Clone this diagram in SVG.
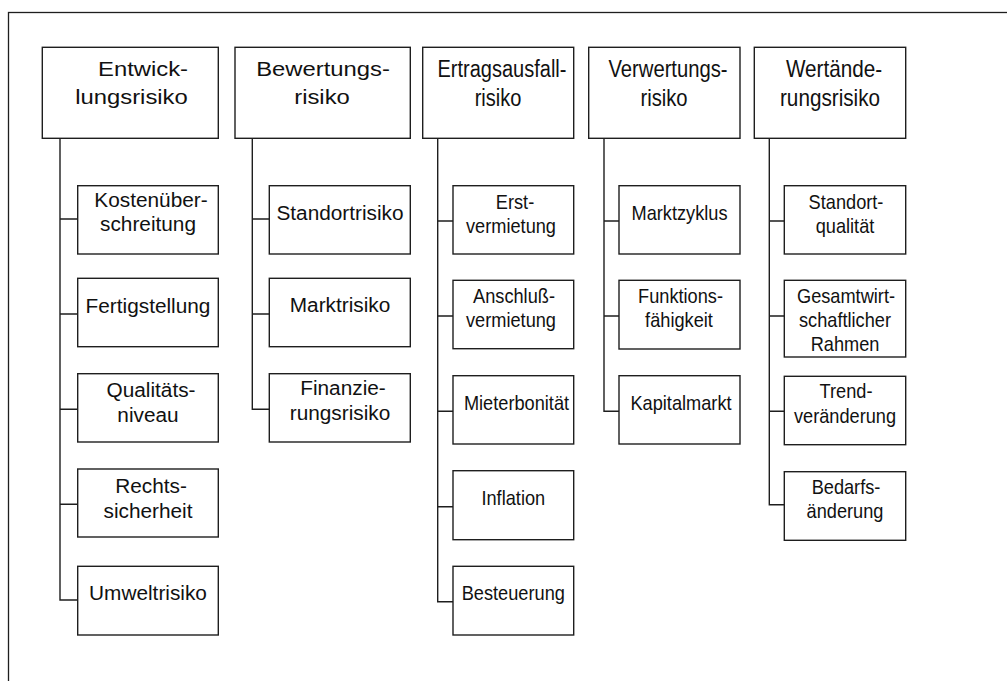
<svg xmlns="http://www.w3.org/2000/svg" width="1007" height="681" viewBox="0 0 1007 681">
<style>
.box{fill:#fff;stroke:#1e1e1e;stroke-width:1.4}
.frame{fill:#fff;stroke:#1e1e1e;stroke-width:1.3}
.con{fill:none;stroke:#1e1e1e;stroke-width:1.4}
text{font-family:"Liberation Sans",Arial,sans-serif;fill:#111;text-anchor:middle}
.t{font-size:21px}
.tn{font-size:23px}
.c{font-size:20px}
</style>
<rect class="frame" x="8.5" y="12.5" width="1010" height="690"/>
<g id="connectors">
<path class="con" d="M60,138.3V600H77.7M60,219H77.7M60,314H77.7M60,409.3H77.7M60,504.3H77.7"/>
<path class="con" d="M252.3,138.3V409.3H269.3M252.3,219H269.3M252.3,314H269.3"/>
<path class="con" d="M437.7,138.3V601.7H453M437.7,221H453M437.7,316H453M437.7,411.3H453M437.7,506.7H453"/>
<path class="con" d="M604,138.3V411.3H619M604,221H619M604,316H619"/>
<path class="con" d="M769.3,138.3V504.7H784.3M769.3,221H784.3M769.3,316H784.3M769.3,411.3H784.3"/>
</g>
<g id="entwicklungsrisiko">
<rect class="box" x="42.3" y="47.3" width="176" height="91"/>
<text class="t" transform="matrix(1.135 0 0 1 143 0)" x="0" y="76">Entwick-</text>
<text class="t" transform="matrix(1.135 0 0 1 131.5 0)" x="0" y="104.5">lungsrisiko</text>
</g>
<g id="bewertungsrisiko">
<rect class="box" x="235" y="47.3" width="175.3" height="91"/>
<text class="t" transform="matrix(1.135 0 0 1 323 0)" x="0" y="76">Bewertungs-</text>
<text class="t" transform="matrix(1.135 0 0 1 322 0)" x="0" y="104.5">risiko</text>
</g>
<g id="ertragsausfallrisiko">
<rect class="box" x="422.7" y="47.3" width="151" height="91"/>
<text class="tn" transform="matrix(0.87 0 0 1 502 0)" x="0" y="77">Ertragsausfall-</text>
<text class="tn" transform="matrix(0.87 0 0 1 498 0)" x="0" y="106">risiko</text>
</g>
<g id="verwertungsrisiko">
<rect class="box" x="588.7" y="47.3" width="151.3" height="91"/>
<text class="tn" transform="matrix(0.88 0 0 1 668 0)" x="0" y="77">Verwertungs-</text>
<text class="tn" transform="matrix(0.88 0 0 1 664 0)" x="0" y="106">risiko</text>
</g>
<g id="wertaenderungsrisiko">
<rect class="box" x="754.3" y="47.3" width="151.4" height="91"/>
<text class="tn" transform="matrix(0.9 0 0 1 834 0)" x="0" y="77">Wertände-</text>
<text class="tn" transform="matrix(0.9 0 0 1 830 0)" x="0" y="106">rungsrisiko</text>
</g>

<g id="kostenueberschreitung">
<rect class="box" x="77.7" y="185.7" width="140.6" height="68.3"/>
<text class="c" transform="matrix(1.04 0 0 1 151 0)" x="0" y="207">Kostenüber-</text>
<text class="c" transform="matrix(1.04 0 0 1 148 0)" x="0" y="231">schreitung</text>
</g>
<g id="fertigstellung">
<rect class="box" x="77.7" y="278.3" width="140.6" height="68.4"/>
<text class="c" transform="matrix(1.04 0 0 1 148 0)" x="0" y="312.7">Fertigstellung</text>
</g>
<g id="qualitaetsniveau">
<rect class="box" x="77.7" y="373.7" width="140.6" height="68.3"/>
<text class="c" transform="matrix(1.04 0 0 1 151 0)" x="0" y="397.3">Qualitäts-</text>
<text class="c" transform="matrix(1.04 0 0 1 148 0)" x="0" y="421.7">niveau</text>
</g>
<g id="rechtssicherheit">
<rect class="box" x="77.7" y="469" width="140.6" height="68"/>
<text class="c" transform="matrix(1.04 0 0 1 151 0)" x="0" y="493.3">Rechts-</text>
<text class="c" transform="matrix(1.04 0 0 1 148 0)" x="0" y="517.7">sicherheit</text>
</g>
<g id="umweltrisiko">
<rect class="box" x="77.7" y="566.3" width="140.6" height="68.7"/>
<text class="c" transform="matrix(1.04 0 0 1 148 0)" x="0" y="600">Umweltrisiko</text>
</g>

<g id="standortrisiko">
<rect class="box" x="269.3" y="185.7" width="141" height="68.3"/>
<text class="c" transform="matrix(1.04 0 0 1 340 0)" x="0" y="220">Standortrisiko</text>
</g>
<g id="marktrisiko">
<rect class="box" x="269.3" y="278.3" width="141" height="68.4"/>
<text class="c" transform="matrix(1.04 0 0 1 340 0)" x="0" y="311.7">Marktrisiko</text>
</g>
<g id="finanzierungsrisiko">
<rect class="box" x="269.3" y="373.7" width="141" height="68.3"/>
<text class="c" transform="matrix(1.04 0 0 1 343 0)" x="0" y="395">Finanzie-</text>
<text class="c" transform="matrix(1.04 0 0 1 340 0)" x="0" y="420">rungsrisiko</text>
</g>

<g id="erstvermietung">
<rect class="box" x="453" y="185.7" width="120.7" height="68.3"/>
<text class="c" transform="matrix(0.91 0 0 1 515 0)" x="0" y="209">Erst-</text>
<text class="c" transform="matrix(0.91 0 0 1 511 0)" x="0" y="233">vermietung</text>
</g>
<g id="anschlussvermietung">
<rect class="box" x="453" y="280.3" width="120.7" height="68.4"/>
<text class="c" transform="matrix(0.91 0 0 1 514 0)" x="0" y="302.7">Anschluß-</text>
<text class="c" transform="matrix(0.91 0 0 1 511 0)" x="0" y="327">vermietung</text>
</g>
<g id="mieterbonitaet">
<rect class="box" x="453" y="375.7" width="120.7" height="68.3"/>
<text class="c" transform="matrix(0.91 0 0 1 516.5 0)" x="0" y="410">Mieterbonität</text>
</g>
<g id="inflation">
<rect class="box" x="453" y="470.7" width="120.7" height="69"/>
<text class="c" transform="matrix(0.91 0 0 1 513.3 0)" x="0" y="505">Inflation</text>
</g>
<g id="besteuerung">
<rect class="box" x="453" y="566.3" width="120.7" height="68.7"/>
<text class="c" transform="matrix(0.91 0 0 1 513.3 0)" x="0" y="600">Besteuerung</text>
</g>

<g id="marktzyklus">
<rect class="box" x="619" y="185.7" width="121" height="68.3"/>
<text class="c" transform="matrix(0.91 0 0 1 679.5 0)" x="0" y="220">Marktzyklus</text>
</g>
<g id="funktionsfaehigkeit">
<rect class="box" x="619" y="280.3" width="121" height="68.7"/>
<text class="c" transform="matrix(0.91 0 0 1 680.5 0)" x="0" y="302.7">Funktions-</text>
<text class="c" transform="matrix(0.91 0 0 1 679 0)" x="0" y="327">fähigkeit</text>
</g>
<g id="kapitalmarkt">
<rect class="box" x="619" y="375.7" width="121" height="68.3"/>
<text class="c" transform="matrix(0.91 0 0 1 681 0)" x="0" y="410">Kapitalmarkt</text>
</g>

<g id="standortqualitaet">
<rect class="box" x="784.3" y="185.7" width="121.4" height="68.3"/>
<text class="c" transform="matrix(0.91 0 0 1 846 0)" x="0" y="209">Standort-</text>
<text class="c" transform="matrix(0.91 0 0 1 845 0)" x="0" y="233">qualität</text>
</g>
<g id="gesamtwirtschaftlicher-rahmen">
<rect class="box" x="784.3" y="280.3" width="121.4" height="76.7"/>
<text class="c" transform="matrix(0.91 0 0 1 846 0)" x="0" y="302.7">Gesamtwirt-</text>
<text class="c" transform="matrix(0.91 0 0 1 845 0)" x="0" y="327">schaftlicher</text>
<text class="c" transform="matrix(0.91 0 0 1 845 0)" x="0" y="351">Rahmen</text>
</g>
<g id="trendveraenderung">
<rect class="box" x="784.3" y="376.3" width="121.4" height="68.4"/>
<text class="c" transform="matrix(0.91 0 0 1 846 0)" x="0" y="398.3">Trend-</text>
<text class="c" transform="matrix(0.91 0 0 1 845 0)" x="0" y="422.7">veränderung</text>
</g>
<g id="bedarfsaenderung">
<rect class="box" x="784.3" y="471.7" width="121.4" height="68.6"/>
<text class="c" transform="matrix(0.91 0 0 1 846 0)" x="0" y="494">Bedarfs-</text>
<text class="c" transform="matrix(0.91 0 0 1 845 0)" x="0" y="518">änderung</text>
</g>
</svg>
